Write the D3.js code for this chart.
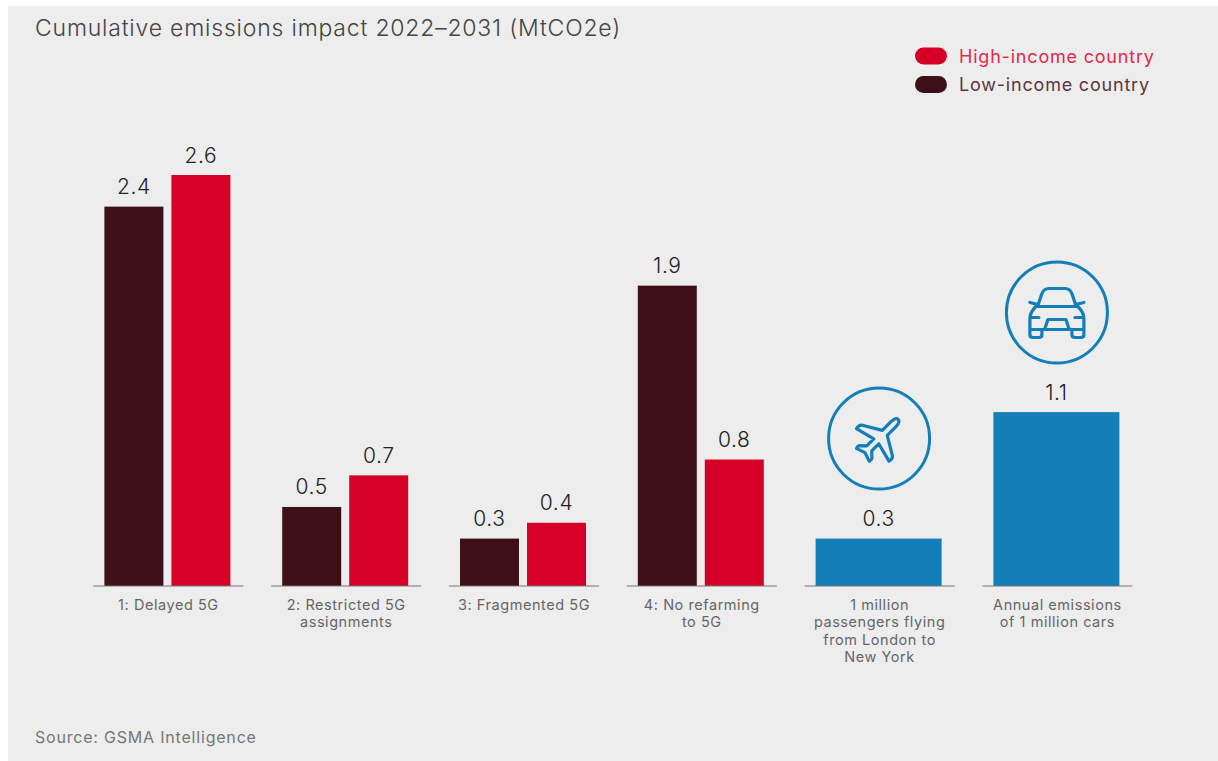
<!DOCTYPE html>
<html><head><meta charset="utf-8">
<script src="https://cdn.jsdelivr.net/npm/d3@7"></script>
<style>
html,body{margin:0;padding:0;background:#fff;overflow:hidden}
svg{display:block}
text{font-family:"Inter","Open Sans",sans-serif}
</style></head><body><svg id="c" width="1218" height="761"></svg>
<script>
const categories = ["1: Delayed 5G","2: Restricted 5G assignments","3: Fragmented 5G","4: No refarming to 5G","1 million passengers flying from London to New York","Annual emissions of 1 million cars"];
const categoryLines = [["1: Delayed 5G"],["2: Restricted 5G","assignments"],["3: Fragmented 5G"],["4: No refarming","to 5G"],["1 million","passengers flying","from London to","New York"],["Annual emissions","of 1 million cars"]];
const lowIncome = [2.4,0.5,0.3,1.9,null,null];
const highIncome = [2.6,0.7,0.4,0.8,null,null];
const comparison = [null,null,null,null,0.3,1.1];
const seriesNames = ["High-income country","Low-income country"];
const title = "Cumulative emissions impact 2022–2031 (MtCO2e)";
const source = "Source: GSMA Intelligence";
const DARK="#3d0f18", RED="#d60026", BLUE="#137fb8";

const svg=d3.select("#c");
svg.append("rect").attr("x",8).attr("y",6).attr("width",1210).attr("height",755).attr("fill","#ededed");

const y=d3.scaleLinear().domain([0,2.6]).range([586,175]);
const x=d3.scaleBand().domain(categories).range([93.4,1132.4]).paddingInner(27.8/177.8);
const inner=d3.scaleBand().domain(["low","high"]).range([11,137]).paddingInner(8/67);

// marks
const marks=[];
categories.forEach((c,i)=>{
  if(lowIncome[i]!=null) marks.push({c,v:lowIncome[i],x:x(c)+inner("low"),w:inner.bandwidth(),f:DARK});
  if(highIncome[i]!=null) marks.push({c,v:highIncome[i],x:x(c)+inner("high"),w:inner.bandwidth(),f:RED});
  if(comparison[i]!=null) marks.push({c,v:comparison[i],x:x(c)+11,w:126,f:BLUE});
});
svg.append("g").selectAll("rect").data(marks).join("rect")
  .attr("x",d=>d.x).attr("width",d=>d.w)
  .attr("y",d=>y(d.v)).attr("height",d=>y(0)-y(d.v)).attr("fill",d=>d.f);
svg.append("g").selectAll("text").data(marks).join("text")
  .attr("x",d=>d.x+d.w/2).attr("y",d=>y(d.v)-12.5)
  .attr("text-anchor","middle").attr("font-size",21).attr("font-weight",300).attr("fill","#222")
  .style("letter-spacing","0.6px")
  .text(d=>d.v.toFixed(1));

// axis baseline segments and category labels
svg.append("g").selectAll("line").data(categories).join("line")
  .attr("x1",c=>x(c)).attr("x2",c=>x(c)+x.bandwidth())
  .attr("y1",y(0)).attr("y2",y(0)).attr("stroke","#777").attr("stroke-width",1.2);
const ax=svg.append("g").attr("transform",`translate(0,${y(0)})`)
  .call(d3.axisBottom(x).tickSize(0));
ax.select(".domain").remove();
ax.selectAll(".tick text").each(function(c){
  const lines=categoryLines[categories.indexOf(c)];
  const t=d3.select(this).text(null).attr("y",0).attr("dy",null)
    .attr("font-size",14.5).attr("fill","#666").attr("font-family",'"Inter","Open Sans",sans-serif')
    .style("letter-spacing","0.55px");
  lines.forEach((l,i)=>t.append("tspan").attr("x",0).attr("y",24+i*17.3).text(l));
});

// title, source, legend
svg.append("text").attr("x",35).attr("y",36).attr("font-size",23).attr("font-weight",300).attr("fill","#444")
  .style("letter-spacing","0.8px").text(title);
svg.append("text").attr("x",35).attr("y",743).attr("font-size",16).attr("fill","#777")
  .style("letter-spacing","0.8px").text(source);
const leg=[{n:seriesNames[0],f:RED,t:"#df2a4a",y:47.5},{n:seriesNames[1],f:DARK,t:"#5c3540",y:76}];
const lg=svg.append("g").selectAll("g").data(leg).join("g");
lg.append("rect").attr("x",915).attr("y",d=>d.y).attr("width",32).attr("height",17).attr("rx",8.5).attr("fill",d=>d.f);
lg.append("text").attr("x",959).attr("y",d=>d.y+15).attr("font-size",18).attr("fill",d=>d.t)
  .style("letter-spacing","0.8px").text(d=>d.n);

// icons
function badge(cat,cy,path,xform){
  const cx=x(cat)+x.bandwidth()/2-0.5;
  const g=svg.append("g").attr("transform",`translate(${cx},${cy})`)
    .attr("fill","none").attr("stroke",BLUE).attr("stroke-linejoin","round").attr("stroke-linecap","round");
  g.append("circle").attr("r",50.5).attr("stroke-width",3);
  g.append("path").attr("d",path).attr("stroke-width",3.2).attr("transform",xform||null);
}
const carIcon="M-19,-7L-15,-19Q-13,-24 -8,-24H8Q13,-24 15,-19L19,-7M-27,-10L-19,-8M27,-10L19,-8M-21,-6H21M-21,-6Q-27,0 -27,6V22Q-27,25 -24,25H-18Q-15,25 -15,22V17M21,-6Q27,0 27,6V22Q27,25 24,25H18Q15,25 15,22V17M-27,17H27M-27,5H-18M27,5H18M-12,16L-9,7H9L12,16";
const planeIcon="M0,-27Q3.5,-27 3.5,-20V-8L22,3Q24,5 23,9L3.5,4V14L9,19Q10,21 9,23L0,20L-9,23Q-10,21 -9,19L-3.5,14V4L-23,9Q-24,5 -22,3L-3.5,-8V-20Q-3.5,-27 0,-27Z";
badge(categories[5],312.5,carIcon);
badge(categories[4],438.5,planeIcon,"rotate(45)");
</script></body></html>
